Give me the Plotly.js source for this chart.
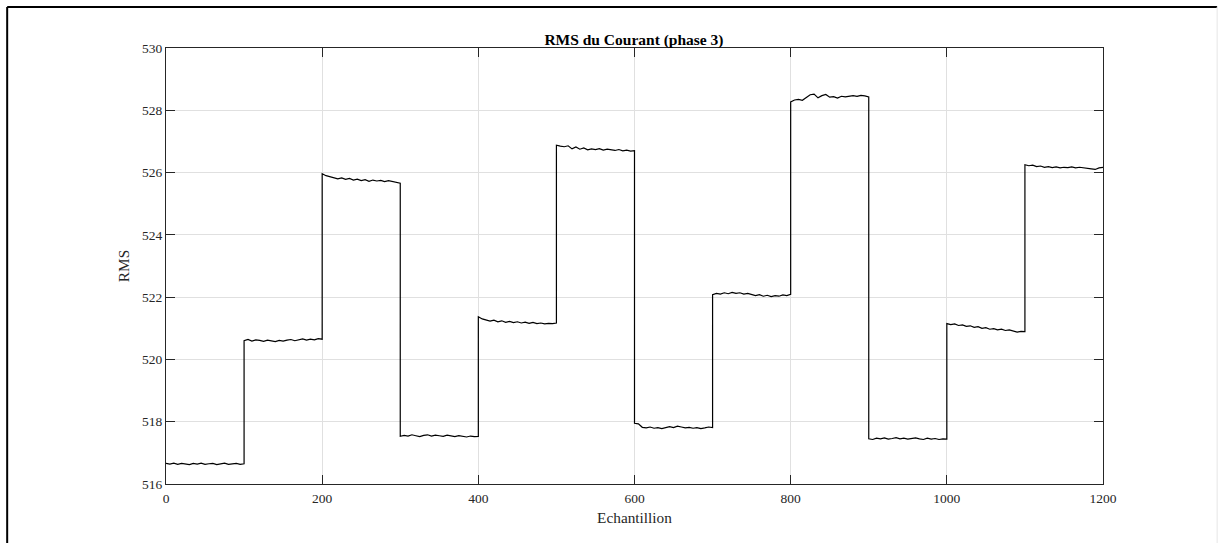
<!DOCTYPE html>
<html>
<head>
<meta charset="utf-8">
<script src="https://cdn.plot.ly/plotly-3.0.1.min.js"></script>
<style>
  html, body { margin: 0; padding: 0; background: #fff; }
  #chart { width: 1218px; height: 543px; }
</style>
</head>
<body>
<div id="chart"></div>
<script>
// Sample step between stored values (samples)
const STEP = 5;
// Segment start indices (Echantillion)
const segStarts = [0, 100, 200, 300, 400, 500, 600, 700, 800, 900, 1000, 1100];

// RMS values, one value every 5 samples per segment
const seg0 = [516.66,516.64,516.67,516.63,516.66,516.65,516.62,516.66,516.64,516.67,516.63,516.65,516.66,516.62,516.65,516.67,516.63,516.64,516.66,516.63,516.65];
const seg1 = [520.60,520.64,520.59,520.63,520.61,520.58,520.62,520.60,520.57,520.61,520.59,520.62,520.64,520.60,520.63,520.66,520.62,520.65,520.63,520.67,520.65];
const seg2 = [525.96,525.90,525.86,525.84,525.80,525.83,525.78,525.81,525.76,525.79,525.74,525.77,525.72,525.76,525.73,525.75,525.71,525.74,525.72,525.69,525.66];
const seg3 = [517.53,517.56,517.54,517.58,517.55,517.52,517.56,517.58,517.54,517.57,517.55,517.53,517.57,517.54,517.52,517.55,517.53,517.51,517.54,517.52,517.53];
const seg4 = [521.37,521.30,521.27,521.23,521.26,521.21,521.24,521.19,521.22,521.18,521.21,521.17,521.20,521.16,521.19,521.15,521.17,521.14,521.16,521.15,521.17];
const seg5 = [526.88,526.85,526.83,526.86,526.76,526.82,526.75,526.79,526.73,526.76,526.74,526.77,526.72,526.75,526.73,526.71,526.74,526.70,526.72,526.69,526.70];
const seg6 = [517.95,517.93,517.82,517.80,517.83,517.79,517.81,517.78,517.80,517.84,517.81,517.86,517.83,517.80,517.82,517.79,517.81,517.78,517.80,517.83,517.81];
const seg7 = [522.08,522.12,522.10,522.14,522.11,522.15,522.12,522.14,522.10,522.12,522.08,522.05,522.08,522.03,522.06,522.02,522.05,522.03,522.07,522.05,522.09];
const seg8 = [528.27,528.33,528.35,528.32,528.40,528.50,528.52,528.40,528.47,528.51,528.42,528.44,528.39,528.45,528.43,528.46,528.47,528.45,528.48,528.46,528.43];
const seg9 = [517.45,517.43,517.47,517.45,517.48,517.44,517.46,517.49,517.45,517.47,517.44,517.46,517.48,517.45,517.43,517.47,517.44,517.46,517.43,517.45,517.44];
const seg10 = [521.15,521.12,521.14,521.09,521.11,521.06,521.08,521.03,521.05,521.00,521.02,520.97,520.99,520.95,520.97,520.93,520.95,520.91,520.88,520.90,520.89];
const seg11 = [526.25,526.22,526.24,526.19,526.21,526.17,526.19,526.16,526.18,526.15,526.17,526.16,526.18,526.15,526.17,526.16,526.14,526.12,526.10,526.15,526.17];

const segments = [seg0, seg1, seg2, seg3, seg4, seg5, seg6, seg7, seg8, seg9, seg10, seg11];

const xTicks = [0, 200, 400, 600, 800, 1000, 1200];
const yTicks = [516, 518, 520, 522, 524, 526, 528, 530];

const xs = [], ys = [];
segments.forEach((seg, k) => {
  seg.forEach((v, i) => {
    xs.push(segStarts[k] + i * STEP);
    ys.push(v);
  });
});

const axisColor = '#262626';
const gridColor = '#e0e0e0';
const font = "'Liberation Serif', 'Times New Roman', serif";

const trace = {
  x: xs, y: ys, type: 'scatter', mode: 'lines',
  line: { color: '#000000', width: 1.2 },
  hoverinfo: 'x+y'
};

const layout = {
  width: 1218, height: 543,
  margin: { l: 166, r: 115, t: 48, b: 59, pad: 0 },
  paper_bgcolor: '#ffffff', plot_bgcolor: '#ffffff',
  font: { family: font, color: axisColor, size: 13.5 },
  showlegend: false,
  title: {
    text: '<b>RMS du Courant (phase 3)</b>',
    font: { family: font, size: 15.5, color: '#000000', weight: 'bold' },
    x: 0.5205, xanchor: 'center', xref: 'container',
    y: 0.928, yanchor: 'middle', yref: 'container'
  },
  xaxis: {
    range: [0, 1200], tickvals: xTicks, ticktext: xTicks.map(String),
    ticks: 'inside', ticklen: 9, tickwidth: 1, tickcolor: axisColor,
    ticklabelstandoff: 2,
    showline: true, linecolor: axisColor, linewidth: 1, mirror: 'ticks',
    showgrid: true, gridcolor: gridColor, gridwidth: 1, zeroline: false,
    tickfont: { family: font, size: 13.5, color: axisColor },
    title: { text: 'Echantillion', font: { family: font, size: 15.3, color: axisColor }, standoff: 7 }
  },
  yaxis: {
    range: [516, 530], tickvals: yTicks, ticktext: yTicks.map(String),
    ticks: 'inside', ticklen: 9, tickwidth: 1, tickcolor: axisColor,
    showline: true, linecolor: axisColor, linewidth: 1, mirror: 'ticks',
    showgrid: true, gridcolor: gridColor, gridwidth: 1, zeroline: false,
    tickfont: { family: font, size: 13.5, color: axisColor },
    title: { text: 'RMS', font: { family: font, size: 15.3, color: axisColor }, standoff: 8 }
  },
  shapes: [
    { type: 'line', xref: 'paper', yref: 'paper', x0: -0.1695, x1: -0.1695, y0: 1.0943, y1: -0.2, line: { color: '#000', width: 2 } },
    { type: 'line', xref: 'paper', yref: 'paper', x0: -0.1695, x1: 1.1218, y0: 1.0943, y1: 1.0943, line: { color: '#000', width: 2 } },
    { type: 'line', xref: 'paper', yref: 'paper', x0: 1.1218, x1: 1.1218, y0: 1.0943, y1: -0.2, line: { color: '#e6e6e6', width: 1 } }
  ]
};

Plotly.newPlot('chart', [trace], layout, { displayModeBar: false, staticPlot: true });
</script>
</body>
</html>
